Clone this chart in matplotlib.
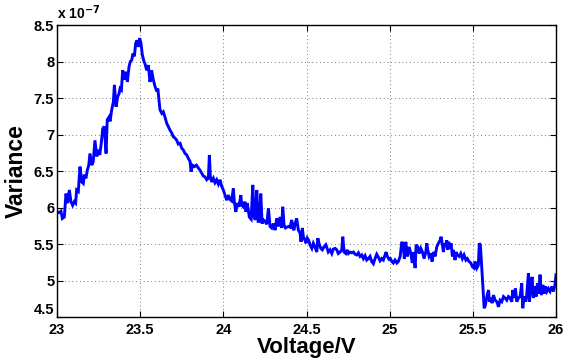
import matplotlib
matplotlib.use("Agg")
import matplotlib.pyplot as plt
import numpy as np

voltage = [
    23.000, 23.012, 23.024, 23.032, 23.044, 23.054, 23.064, 23.074, 23.084, 23.094,
    23.104, 23.112, 23.118, 23.128, 23.138, 23.149, 23.158, 23.164, 23.174, 23.182,
    23.191, 23.198, 23.209, 23.218, 23.228, 23.239, 23.248, 23.257, 23.265, 23.275,
    23.284, 23.295, 23.302, 23.313, 23.319, 23.329, 23.339, 23.345, 23.355, 23.365,
    23.373, 23.379, 23.387, 23.395, 23.405, 23.415, 23.423, 23.433, 23.441, 23.449,
    23.457, 23.465, 23.473, 23.481, 23.489, 23.497, 23.505, 23.513, 23.523,
    23.529, 23.539, 23.549, 23.559, 23.569, 23.579, 23.589, 23.600, 23.606, 23.613,
    23.619, 23.630, 23.639, 23.649, 23.660, 23.669, 23.679, 23.690, 23.699, 23.710,
    23.720, 23.729, 23.740, 23.750, 23.759, 23.770, 23.780, 23.790, 23.800, 23.806,
    23.814, 23.826, 23.838, 23.850, 23.860, 23.870, 23.880, 23.890, 23.900, 23.910,
    23.916, 23.922, 23.930, 23.940, 23.950, 23.960, 23.970, 23.980, 23.990, 24.000,
    24.010,
    24.020, 24.030, 24.040, 24.050, 24.060, 24.066, 24.075, 24.084, 24.094, 24.105,
    24.111, 24.120, 24.130, 24.136, 24.144, 24.156, 24.167, 24.177, 24.185, 24.192,
    24.201, 24.209, 24.216, 24.225, 24.233, 24.240, 24.251, 24.261, 24.271, 24.281,
    24.291, 24.301, 24.311, 24.321, 24.331, 24.341, 24.351, 24.357, 24.365, 24.373,
    24.381, 24.391, 24.401, 24.411, 24.417, 24.425, 24.431, 24.441, 24.451, 24.461,
    24.467, 24.475, 24.481, 24.491, 24.497, 24.505, 24.513,
    24.521, 24.532, 24.541, 24.551, 24.562, 24.568, 24.575, 24.586, 24.595, 24.605,
    24.616, 24.624, 24.631, 24.642, 24.652, 24.661, 24.672, 24.682, 24.691, 24.702,
    24.712, 24.718, 24.726, 24.736, 24.744, 24.752, 24.762, 24.772, 24.782, 24.792,
    24.802, 24.812, 24.822, 24.832, 24.842, 24.852, 24.862, 24.872, 24.882, 24.892,
    24.902, 24.912, 24.922, 24.932, 24.942, 24.952, 24.962, 24.972, 24.978, 24.986,
    24.996, 25.004, 25.013, 25.022,
    25.032, 25.043, 25.052, 25.063, 25.073, 25.082, 25.088, 25.097, 25.106, 25.117,
    25.127, 25.136, 25.142, 25.153, 25.159, 25.169, 25.177, 25.187, 25.197, 25.207,
    25.217, 25.223, 25.229, 25.237, 25.247, 25.255, 25.263, 25.273, 25.283, 25.293,
    25.303, 25.309, 25.317, 25.323, 25.329, 25.337, 25.343, 25.349, 25.355, 25.363,
    25.369, 25.377, 25.383, 25.393, 25.399, 25.407, 25.417, 25.427, 25.437, 25.447,
    25.458, 25.467, 25.477, 25.488, 25.497, 25.507,
    25.513, 25.524, 25.533, 25.539, 25.545, 25.551, 25.557, 25.563, 25.568, 25.575,
    25.584, 25.594, 25.600, 25.608, 25.616, 25.624, 25.634, 25.644, 25.654, 25.664,
    25.674, 25.684, 25.694, 25.704, 25.714, 25.724, 25.734, 25.740, 25.748, 25.756,
    25.764, 25.774, 25.784, 25.794, 25.800, 25.808, 25.818, 25.824, 25.834, 25.840,
    25.848, 25.856, 25.864, 25.872, 25.880, 25.888, 25.896, 25.904, 25.912, 25.921,
    25.928, 25.936, 25.945, 25.954, 25.964, 25.975, 25.984, 25.994, 26.000,
]

variance_e7 = [
    5.94, 5.93, 5.95, 5.85, 5.87, 6.19, 6.06, 6.24, 6.08, 6.03,
    6.08, 6.06, 6.24, 6.22, 6.56, 6.35, 6.33, 6.45, 6.40, 6.51,
    6.58, 6.74, 6.58, 6.63, 6.92, 6.70, 6.79, 6.72, 6.86, 7.08,
    7.11, 6.74, 7.20, 7.24, 7.18, 7.34, 7.45, 7.68, 7.38, 7.52,
    7.56, 7.63, 7.61, 7.88, 7.75, 7.86, 7.72, 7.93, 8.00, 8.02,
    8.11, 8.07, 8.25, 8.29, 8.20, 8.32, 8.25, 8.09, 8.00,
    7.97, 7.88, 7.95, 7.72, 7.88, 7.75, 7.66, 7.59, 7.63, 7.47,
    7.34, 7.29, 7.31, 7.24, 7.15, 7.11, 7.06, 7.02, 6.97, 6.95,
    6.92, 6.87, 6.88, 6.81, 6.79, 6.74, 6.72, 6.67, 6.63, 6.49,
    6.58, 6.56, 6.58, 6.54, 6.51, 6.47, 6.43, 6.42, 6.38, 6.40,
    6.72, 6.42, 6.35, 6.40, 6.34, 6.38, 6.32, 6.38, 6.29, 6.24,
    6.17,
    6.10, 6.17, 6.11, 6.09, 6.26, 6.08, 5.94, 6.06, 6.01, 6.17,
    6.03, 6.01, 6.08, 5.94, 6.06, 5.87, 5.84, 6.31, 5.87, 5.83,
    6.24, 5.81, 5.81, 6.19, 5.78, 5.83, 5.81, 5.77, 5.99, 5.74,
    5.72, 5.78, 5.69, 5.85, 5.74, 5.87, 5.72, 6.01, 5.76, 5.72,
    5.73, 5.74, 5.73, 5.83, 5.72, 5.69, 5.78, 5.85, 5.69, 5.65,
    5.53, 5.72, 5.60, 5.55, 5.51, 5.58, 5.55,
    5.49, 5.44, 5.51, 5.46, 5.39, 5.58, 5.51, 5.44, 5.42, 5.46,
    5.49, 5.44, 5.39, 5.42, 5.37, 5.43, 5.44, 5.42, 5.37, 5.39,
    5.42, 5.60, 5.39, 5.37, 5.42, 5.37, 5.39, 5.38, 5.39, 5.36,
    5.35, 5.38, 5.33, 5.35, 5.30, 5.34, 5.28, 5.30, 5.33, 5.26,
    5.23, 5.30, 5.36, 5.32, 5.27, 5.30, 5.28, 5.35, 5.39, 5.33,
    5.29, 5.30, 5.26, 5.24,
    5.28, 5.24, 5.26, 5.33, 5.53, 5.49, 5.30, 5.53, 5.33, 5.46,
    5.37, 5.24, 5.39, 5.17, 5.49, 5.46, 5.37, 5.44, 5.39, 5.30,
    5.39, 5.51, 5.42, 5.33, 5.37, 5.26, 5.39, 5.33, 5.46, 5.51,
    5.55, 5.60, 5.49, 5.39, 5.51, 5.46, 5.55, 5.42, 5.53, 5.44,
    5.51, 5.33, 5.42, 5.28, 5.39, 5.35, 5.33, 5.37, 5.30, 5.35,
    5.28, 5.30, 5.26, 5.24, 5.19, 5.17,
    5.26, 5.17, 5.21, 5.51, 5.49, 5.28, 5.05, 4.82, 4.62, 4.66,
    4.78, 4.87, 4.71, 4.76, 4.69, 4.80, 4.73, 4.71, 4.64, 4.73,
    4.71, 4.78, 4.76, 4.73, 4.78, 4.76, 4.71, 4.87, 4.76, 4.89,
    4.71, 4.76, 4.78, 4.96, 4.62, 4.78, 4.71, 4.80, 5.10, 4.71,
    4.89, 5.05, 4.76, 4.92, 4.78, 4.96, 4.82, 5.08, 4.80, 4.94,
    4.82, 4.92, 4.85, 4.89, 4.85, 4.92, 4.85, 4.94, 5.08,
]

x_ticks = [23, 23.5, 24, 24.5, 25, 25.5, 26]
x_ticklabels = ['23', '23.5', '24', '24.5', '25', '25.5', '26']
y_ticks = [4.5, 5, 5.5, 6, 6.5, 7, 7.5, 8, 8.5]
y_ticklabels = ['4.5', '5', '5.5', '6', '6.5', '7', '7.5', '8', '8.5']

plt.rcParams['font.family'] = ['Liberation Sans', 'DejaVu Sans']
plt.rcParams['font.weight'] = 'bold'

fig = plt.figure(figsize=(5.65, 3.63), dpi=100)
ax = fig.add_axes([0.1009, 0.1267, 0.8832, 0.8044])

ax.plot(voltage, variance_e7, color='#0000ff', lw=2.1, solid_joinstyle='miter')

ax.set_xlim(23, 26)
ax.set_ylim(4.5, 8.5)
ax.set_xticks(x_ticks)
ax.set_xticklabels(x_ticklabels, fontsize=10.5, fontweight='bold')
ax.set_yticks(y_ticks)
ax.set_yticklabels(y_ticklabels, fontsize=10.5, fontweight='bold')
ax.tick_params(direction='in', length=4, width=0.8, top=True, right=True, pad=2)
ax.tick_params(axis='x', pad=4.5)
ax.grid(True, color='black', linestyle=(0, (1, 3.5)), lw=0.6, alpha=0.7)
for sp in ax.spines.values():
    sp.set_linewidth(1.0)

# nudge the bottom y tick label up a little so it clears the "23" below it
ax.get_yticklabels()[0].set_va('bottom')

ax.set_xlabel('Voltage/V', fontsize=16, fontweight='bold', labelpad=0)
ax.set_ylabel('Variance', fontsize=16.5, fontweight='bold', labelpad=4)
ax.text(0.0, 1.012, r'x 10$^{\mathbf{-7}}$', transform=ax.transAxes,
        fontsize=10, fontweight='bold', ha='left', va='bottom')

fig.savefig('out.png', dpi=100)
